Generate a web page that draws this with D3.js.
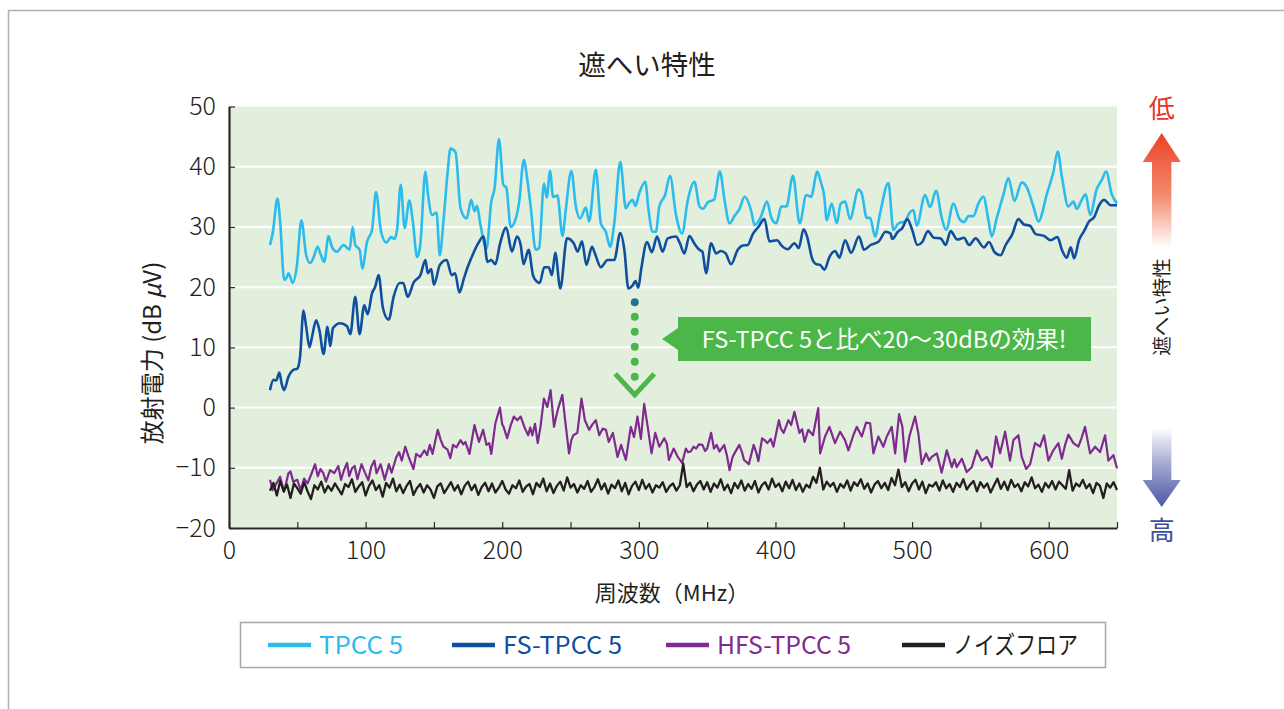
<!DOCTYPE html>
<html><head><meta charset="utf-8">
<script src="https://cdn.jsdelivr.net/npm/d3@7"></script>
<style>
html,body{margin:0;padding:0;background:#fff;}
svg{display:block;font-family:"Noto Sans CJK JP","Noto Sans",sans-serif;}
</style></head>
<body>
<svg id="chart" width="1284" height="709"></svg>
<script>
// ---- data ----
const yTicks = [-20,-10,0,10,20,30,40,50];
const xTicks = [0,50,100,150,200,250,300,350,400,450,500,550,600,650];
const seriesNames = ["TPCC 5","FS-TPCC 5","HFS-TPCC 5","ノイズフロア"];
const seriesColors = ["#2bbbec","#0f4f9f","#7e2a8f","#231f20"];

// TPCC 5 [MHz, dBuV]
const tpcc5 = [[30,27],[32,29],[35.5,34.7],[37.4,31],[40.4,21.2],[42,21.5],[43.5,22.3],[46.7,20.7],[49.6,23.4],[53,31.1],[56.5,25.3],[59.4,24],[62,25],[64.8,26.7],[67,25.5],[69.7,24.2],[72.9,28.5],[75.3,26.7],[79,25.9],[83.9,27],[88.3,26.2],[90.5,30],[92.4,27],[95.6,26.2],[97.6,23.1],[101,27.5],[104.7,29.5],[107.6,35.8],[111.3,29.2],[115.2,27.4],[118.6,28.3],[121,28],[123,29.5],[125.7,37],[128.6,29.8],[132,34.4],[134.5,31],[137.7,25],[140,27],[143.8,39.2],[145.5,35.7],[148.7,32],[151.9,32.4],[154.3,25.3],[157,31],[160,39],[162.1,43],[165.8,42.4],[169.5,33.1],[173.9,31.4],[177.3,34.5],[179.7,32.6],[181.5,33.5],[184.1,30.3],[188.5,26.4],[192,34.2],[194.4,36.4],[197.6,44.6],[200.8,37],[203,36.5],[206.2,30],[209.8,31.3],[212.3,34],[215.8,41.1],[218.4,37.8],[220.8,33.4],[224.5,26.2],[227,26.5],[230.6,37.2],[232.6,34.9],[235,39.3],[237.2,35],[240.4,35.2],[244.1,28.5],[246.5,32.8],[250.6,39.3],[253.9,33.4],[257,31.4],[261.2,33.2],[263.6,30.9],[268.5,39.5],[272.2,30.6],[275.8,29.2],[279,26.7],[282,30.6],[286.4,40.8],[290.5,33.1],[293,34],[295.4,34.5],[297.5,33.5],[300.3,35.6],[304.7,37.5],[307,33],[310.1,29.2],[312.5,29.2],[315,33.4],[319.2,35.3],[322.8,38.5],[327.2,32],[331.6,28.9],[335.8,34.4],[340.7,37.5],[344.4,33.4],[347,33],[350.5,34.1],[355,34.5],[359.3,39.2],[362.7,34.5],[366.4,30.6],[370,31.8],[373.7,33],[377.4,35],[382.3,32.6],[384.7,30.3],[389,31.5],[393.8,34.2],[397,31.5],[400.6,30.6],[404.3,33.4],[408,33.4],[412.8,38.5],[417.7,30.6],[422.6,35.3],[426,35],[430.7,39.2],[432.7,37.8],[435.8,34.9],[437.5,31.1],[441.2,33.9],[444.9,30.6],[447.8,33.9],[451,34.2],[454.6,31.3],[460.7,36.2],[463.2,35.5],[466.8,31.5],[469.3,31.5],[472.9,28.4],[476.6,32.3],[482.7,37.3],[486.3,29.5],[490,30.6],[494.9,30.9],[498,32.3],[501,32.8],[503.4,30.2],[509.5,35.3],[513.2,33.3],[517.6,36],[521.7,31.5],[524.9,29.5],[530.3,33.9],[534.7,31.3],[538,30.8],[541.3,31.8],[544.9,31.8],[548.6,33.9],[552.2,35],[555.9,31.1],[558.3,28.4],[562,31.5],[566.9,35.4],[570.5,38.1],[574.9,34.3],[580.3,37.4],[583.9,36.6],[588.8,33.4],[592.5,30.9],[598.6,35.4],[603.5,39.2],[606.6,42.5],[609.6,38.4],[614.4,33.4],[618.1,34.2],[620.6,33],[624.2,34.5],[627.1,35.4],[630.3,32],[635.2,36.3],[638.9,37.8],[642,39.2],[646.2,35.4],[650,33.9]];

// FS-TPCC 5 [MHz, dBuV]
const fsTpcc5 = [[30,2.9],[32.5,4.6],[34.5,4.5],[36.9,5.8],[38.5,4],[40.3,2.9],[43.5,5.1],[46.7,6.2],[50.1,6.5],[52,8.4],[54.5,16.1],[56.5,13.4],[58.9,10],[61,12],[63.8,14.5],[66.3,12.7],[69.2,8.9],[72.1,13.4],[74.1,10.2],[76.1,13.2],[81.5,14],[86.4,13.5],[88.8,12.2],[92.4,18.4],[95.6,12.2],[99,17],[101.5,15.5],[104.7,19],[107.1,20.1],[109.5,22],[112.7,16.5],[116.9,14.6],[120.5,18.4],[124.9,20.7],[127.5,20.7],[130.8,18.4],[135.2,20.8],[140.1,22],[143.8,24.5],[145.5,22.3],[148,23],[150,20.4],[154.4,23.7],[159.3,24.5],[163,22],[165.5,22.3],[168.6,19.1],[172,21.5],[175,23.5],[178.8,25.6],[182.5,27.3],[186.2,28.4],[189.2,24.2],[192,24.5],[194.9,23.8],[198.5,27.3],[202.9,29.9],[207.1,25.9],[210.8,28.4],[213.5,27],[215.6,23.8],[219.3,26.2],[222.5,22],[225,21],[227.4,20.7],[230.8,23.3],[234,23.3],[236.4,22],[238.8,25.7],[242.5,19.8],[247.4,28.1],[252.3,27.3],[255.2,25.9],[258.4,27.6],[261.6,23.7],[265.7,26.7],[268,25.5],[272.2,23.3],[277.1,24.5],[282,24.5],[286.4,29],[289.4,26.2],[292.3,19.8],[295.5,20.3],[297.5,21],[299.6,19.9],[301.6,22.8],[306,27.5],[309.5,25.8],[313.3,28.4],[317.4,25.9],[321.1,28.1],[327.2,28.4],[330,27.3],[333.3,25.6],[337,28.5],[340.5,27.3],[344.3,26.2],[346.5,25.9],[349.2,22.3],[352.9,27.3],[356.6,25.6],[360,26],[363.5,25.6],[367.5,23.8],[372.4,26.2],[376,26.9],[379.7,27],[383.4,28.8],[387.5,30],[391.9,31.3],[395.6,27.6],[401.2,27.8],[404.5,26.9],[409,26.3],[413.9,27.3],[417,26.5],[420.6,29.6],[423,28.5],[427.2,24.5],[430,23.8],[432.7,23.7],[435.8,22.9],[439.5,25],[443.6,26],[446.8,24.9],[451,27.8],[455.4,25.7],[461.1,28.4],[464.8,26.2],[469.6,27],[475.7,27.6],[480.6,29.2],[484.2,28.9],[485.5,28],[489.6,29.2],[492.8,29.8],[496.5,31.3],[500.1,29.5],[503.8,27],[507.5,27.5],[511.6,29.3],[516,28.2],[520.9,28.1],[524.6,27],[528.2,29.3],[533.1,27.9],[538,28.2],[541.7,27],[546.5,28.1],[552.6,26.6],[556.3,27.5],[560.4,25.8],[564.8,25.3],[568.5,27],[573.4,28.8],[577.8,31.3],[581.9,30.4],[586.3,30.2],[590.5,28.8],[596.6,28.5],[601.5,27.8],[606.3,28.3],[610,26],[613.2,24.9],[616.1,26.6],[618.6,24.8],[622.2,27.8],[625.9,29.3],[629.5,30.9],[633.2,31.6],[636.9,33.6],[640.5,34.5],[645.4,33.6],[650,33.6]];

// HFS-TPCC 5 [MHz, dBuV]
const hfsTpcc5 = [[30,-12],[32,-13.7],[35,-12.5],[37.4,-11.5],[40.3,-14],[43.5,-10.9],[45,-10.6],[47,-12.3],[50,-12],[52.5,-13.7],[55,-11.8],[57.5,-12.6],[60,-11.2],[63,-9.4],[65,-11.4],[67,-10.2],[69,-10.9],[71,-12.3],[74,-10.4],[77,-10.9],[80,-9.7],[82,-12],[84,-10.5],[86.4,-9.2],[88,-11.4],[90,-10.1],[92,-9.7],[94,-11.9],[97,-9.4],[99.5,-10.8],[102,-12.1],[104,-9.9],[106.4,-8.8],[108,-10.9],[111,-9.4],[114,-12],[117,-9.4],[119,-10.8],[122.5,-8.2],[124.5,-7.4],[126.5,-8.8],[129,-6.5],[131.5,-8.2],[135,-10.2],[137,-7.7],[140,-8.2],[143,-7.1],[145,-7.9],[147,-6.2],[149,-7.7],[151,-5.5],[152.8,-3.7],[155,-5.4],[157,-6.5],[160,-7],[162,-8.4],[164,-6.2],[166.5,-6.6],[169.5,-5.4],[171.5,-6.1],[173,-5.7],[176,-7.7],[179.7,-2.9],[181.5,-4.5],[183,-5.7],[186,-3.7],[188.5,-6.2],[190.5,-5.9],[192,-7.7],[195,-2.6],[198.3,0],[200,-2.8],[201,-3.2],[203.6,-5.1],[206,-3.1],[208.5,-1.5],[211,-2.1],[213.5,-1.5],[216.7,-3.5],[219,-4.6],[220.5,-3.3],[222,-4.6],[224,-2.7],[226,-5.9],[228,-3.2],[230.5,1.5],[233,0.1],[235.4,2.9],[237.9,-3.2],[239.5,-1.5],[241,-0.1],[244,2.1],[246,-2],[248.9,-7.6],[250.5,-5.5],[252,-4.6],[255,-4.2],[258,1.5],[260.5,-2.1],[263.6,-3.7],[266,-2.8],[268.5,-2.1],[271,-4.6],[273.5,-3.5],[275.9,-3.7],[278,-5.7],[281,-4.2],[284.4,-8.2],[287,-6.2],[290.5,-8.7],[292.5,-5.6],[294.1,-3.2],[296.5,-4.9],[299,-1.5],[301.5,-5.2],[303.9,0.6],[306.5,-3.2],[309.3,-7.6],[312,-4.2],[315,-6.5],[318.6,-5.1],[320.5,-6],[322,-8.7],[325.5,-6.8],[328.5,-8.2],[331.7,-9.2],[334.4,-6.8],[336,-7.4],[338,-7.3],[340,-6.5],[342,-6.8],[344,-6.1],[346.5,-6.2],[348.5,-7.2],[350,-6.8],[352.9,-4.2],[355,-6.8],[357,-6.2],[359,-7.3],[362.5,-6.2],[364.5,-8],[366.4,-10.4],[368.5,-8.3],[370,-7.6],[373.5,-6.2],[375.5,-7.4],[377,-8.7],[380.5,-9.4],[384,-6.2],[386,-7.5],[387.5,-8.9],[390.2,-5.1],[392,-5.4],[394,-5.9],[396.5,-5.2],[398.5,-6.5],[402.5,-2.1],[404,-3.5],[406,-4.2],[409.5,-2.1],[411.5,-2.9],[413.9,-0.7],[417.5,-4.2],[419.5,-3.6],[421.3,-5.7],[424,-3.7],[427.5,-4.6],[431.3,-0.1],[432.7,-7.6],[436.3,-4.8],[439.5,-3.2],[443.6,-5.9],[447.3,-4],[450.9,-5.4],[453.4,-7.1],[457,-4.6],[459.5,-3.2],[463.2,-4.8],[466.3,-2.5],[469.3,-2.6],[471.7,-7.6],[475.3,-4.8],[479,-6.5],[481.5,-4.8],[485.1,-3.2],[487.6,-7.6],[490.5,-1.1],[492.9,-3.2],[494.9,-9],[498,-4.8],[502.2,-1.5],[504.6,-4.3],[507.1,-9.4],[510.2,-7.6],[512.5,-8.8],[514.4,-8.2],[518.1,-7.6],[521.7,-10.8],[525.4,-7.1],[529.1,-9.9],[531,-8.6],[532.7,-9.9],[536.4,-8.5],[540,-10.7],[543.7,-9.9],[547.4,-7.1],[551,-8.8],[554.7,-8.2],[558.3,-9.9],[561.5,-4.8],[564.4,-7.6],[568.1,-4],[571.7,-8.8],[574.2,-5.4],[577.8,-4.6],[580.3,-8.2],[583.5,-10.2],[586.4,-9.4],[590,-5.9],[593.7,-6.5],[596.6,-4.6],[599.8,-8.8],[603.4,-7.1],[607.1,-5.9],[609.6,-8.5],[612,-6.2],[614.4,-4.5],[618.1,-5.9],[621.7,-6.5],[624,-5.1],[626.6,-3.2],[630.3,-7.6],[634,-6.5],[637.6,-7.4],[641.3,-4.6],[643.7,-8.8],[647.4,-7.9],[650,-10.1]];

// Noise floor, 30–650 MHz every 2.5 MHz [dBuV]
const noiseStart = 30, noiseStep = 2.5;
const noiseFloor = [
-13.8,-12.5,-14.6,-12.2,-13.9,-12.8,-15.0,-12.6,-13.4,-14.3,
-12.4,-13.9,-15.2,-12.9,-13.6,-12.3,-14.1,-13.0,-13.8,-12.6,
-13.5,-14.4,-12.7,-13.2,-11.9,-14.0,-13.1,-12.4,-14.6,-13.0,
-12.1,-13.7,-12.9,-14.8,-12.5,-13.3,-11.8,-13.9,-12.8,-14.2,
-13.0,-12.2,-14.5,-13.4,-12.7,-14.1,-12.9,-13.6,-15.0,-13.1,
-12.6,-14.2,-13.3,-12.4,-13.8,-12.9,-14.4,-13.0,-12.3,-13.7,
-12.8,-14.5,-13.2,-12.5,-13.9,-12.6,-14.1,-13.3,-12.2,-13.6,
-14.3,-12.9,-13.4,-12.1,-14.0,-13.1,-12.7,-14.4,-12.5,-13.2,
-11.8,-13.9,-12.6,-14.2,-13.0,-12.3,-13.8,-11.6,-13.3,-12.7,
-14.1,-12.9,-13.5,-12.2,-14.0,-13.2,-11.9,-13.6,-12.6,-14.3,
-12.8,-13.4,-12.1,-13.9,-12.5,-14.4,-13.0,-12.3,-13.7,-12.0,
-13.5,-12.7,-14.1,-12.9,-13.3,-12.4,-14.0,-13.1,-12.6,-13.8,
-12.9,-9.3,-13.2,-12.5,-13.9,-12.8,-12.2,-13.6,-12.4,-14.0,
-12.6,-13.3,-11.9,-13.7,-12.8,-14.2,-12.5,-13.4,-12.1,-13.8,
-12.7,-13.5,-12.2,-14.1,-12.9,-12.4,-13.6,-11.8,-13.2,-12.6,
-13.9,-12.3,-13.4,-12.0,-13.7,-12.6,-14.0,-12.8,-13.3,-11.5,
-12.5,-10.0,-13.6,-12.3,-13.1,-12.5,-14.0,-12.7,-13.3,-12.1,
-13.8,-12.4,-13.0,-11.9,-13.5,-12.6,-14.1,-12.8,-12.2,-13.4,
-12.5,-13.7,-11.7,-12.9,-10.3,-13.2,-12.4,-13.9,-12.6,-12.0,
-13.6,-12.3,-14.2,-12.8,-13.1,-12.4,-13.8,-12.1,-13.4,-12.7,
-14.0,-12.5,-13.2,-11.9,-13.6,-12.8,-12.2,-13.9,-12.4,-13.3,
-12.6,-14.1,-12.9,-11.8,-13.5,-12.3,-13.7,-12.0,-13.2,-12.7,
-13.9,-12.4,-13.1,-11.6,-13.4,-12.8,-14.0,-12.5,-13.3,-12.2,
-13.6,-12.3,-12.9,-13.5,-10.4,-13.8,-12.6,-13.1,-12.0,-13.4,
-12.7,-14.2,-12.5,-13.0,-15.0,-12.6,-13.3,-12.4,-13.7];

// ---- chart ----
const svg = d3.select("#chart");
const x = d3.scaleLinear().domain([0,650]).range([229,1117]);
const y = d3.scaleLinear().domain([-20,50]).range([528,106.5]);

// outer frame
svg.append("path").attr("d","M8.5,709 V10.5 H1284").attr("fill","none").attr("stroke","#b0b0b0").attr("stroke-width",1.5);

// title
svg.append("text").attr("x",647).attr("y",75).attr("text-anchor","middle")
  .attr("font-size",27.5).attr("fill","#231f20").text("遮へい特性");

// plot background
svg.append("rect").attr("x",x(0)).attr("y",y(50)).attr("width",x(650)-x(0)).attr("height",y(-20)-y(50)).attr("fill","#e3efdd");

// gridlines
svg.append("g").selectAll("line").data(yTicks.filter(d=>d>-20 && d<50)).join("line")
  .attr("x1",x(0)).attr("x2",x(650)).attr("y1",d=>y(d)).attr("y2",d=>y(d))
  .attr("stroke","#fff").attr("stroke-width",2);

// series
const lineSmooth = d3.line().x(d=>x(d[0])).y(d=>y(d[1])).curve(d3.curveMonotoneX);
const lineSharp = d3.line().x(d=>x(d[0])).y(d=>y(d[1]));
const noisePts = noiseFloor.map((v,i)=>[noiseStart+i*noiseStep, v]);

const gL = svg.append("g").attr("fill","none").attr("stroke-linejoin","round");
gL.append("path").attr("d",lineSmooth(tpcc5)).attr("stroke",seriesColors[0]).attr("stroke-width",2.6);
gL.append("path").attr("d",lineSmooth(fsTpcc5)).attr("stroke",seriesColors[1]).attr("stroke-width",2.6);
gL.append("path").attr("d",lineSharp(hfsTpcc5)).attr("stroke",seriesColors[2]).attr("stroke-width",2.2);
gL.append("path").attr("d",lineSharp(noisePts)).attr("stroke",seriesColors[3]).attr("stroke-width",2.3);

// axes
const yAxis = d3.axisLeft(y).tickValues(yTicks).tickSize(-6).tickSizeOuter(0).tickPadding(13);
const gy = svg.append("g").attr("transform",`translate(${x(0)},0)`).call(yAxis);
const xAxis = d3.axisBottom(x).tickValues(xTicks).tickSize(-6).tickSizeOuter(0).tickPadding(13)
  .tickFormat(d => d % 100 === 0 ? d : "");
const gx = svg.append("g").attr("transform",`translate(0,${y(-20)})`).call(xAxis);
[gx,gy].forEach(g=>{
  g.select(".domain").attr("stroke","#2a2a2a").attr("stroke-width",2.2);
  g.selectAll(".tick line").attr("stroke","#2a2a2a").attr("stroke-width",1.2);
  g.selectAll(".tick text").attr("font-family",'"Noto Sans CJK JP","Noto Sans",sans-serif')
    .attr("font-size",25).attr("font-weight",300).attr("fill","#231f20");
});

// axis titles
svg.append("text").attr("transform","translate(161,353) rotate(-90)").attr("text-anchor","middle")
  .attr("font-size",24).attr("fill","#231f20")
  .html('放射電力 (dB <tspan font-style="italic">μ</tspan>V)');
svg.append("text").attr("x",672).attr("y",601).attr("text-anchor","middle")
  .attr("font-size",22).attr("fill","#231f20").text("周波数（MHz）");

// annotation: dotted arrow
const annF = 297;
const dotVals = [17.5,15.1,12.6,10.1,7.6,5.1];
svg.append("g").selectAll("circle").data(dotVals).join("circle")
  .attr("cx",x(annF)).attr("cy",d=>y(d)).attr("r",4)
  .attr("fill",(d,i)=> i===0 ? "#2a6f8b" : "#4bb748");
svg.append("path")
  .attr("d",`M${x(annF)-19.5},${y(5.6)} L${x(annF)},${y(2.1)} L${x(annF)+19.5},${y(5.6)}`)
  .attr("fill","none").attr("stroke","#4bb748").attr("stroke-width",5);

// callout
svg.append("path").attr("d","M662,339 L678,328 L678,317 L1091,317 L1091,361 L678,361 L678,350 Z").attr("fill","#4bb748");
svg.append("text").attr("x",884).attr("y",348).attr("text-anchor","middle")
  .attr("font-size",23.5).attr("fill","#fff").text("FS-TPCC 5と比べ20〜30dBの効果!");

// right indicator
const defs = svg.append("defs");
const gUp = defs.append("linearGradient").attr("id","gUp").attr("x1",0).attr("y1",0).attr("x2",0).attr("y2",1);
gUp.append("stop").attr("offset","0%").attr("stop-color","#ec4124");
gUp.append("stop").attr("offset","55%").attr("stop-color","#f28d70");
gUp.append("stop").attr("offset","100%").attr("stop-color","#ffffff");
const gDn = defs.append("linearGradient").attr("id","gDn").attr("x1",0).attr("y1",0).attr("x2",0).attr("y2",1);
gDn.append("stop").attr("offset","0%").attr("stop-color","#ffffff");
gDn.append("stop").attr("offset","45%").attr("stop-color","#a6a9d3");
gDn.append("stop").attr("offset","100%").attr("stop-color","#4a58a6");
const cx = 1161.7;
svg.append("path").attr("d",`M${cx},133 L${cx+19},162 L${cx+9.7},162 L${cx+9.7},248 L${cx-9.7},248 L${cx-9.7},162 L${cx-19},162 Z`).attr("fill","url(#gUp)");
svg.append("path").attr("d",`M${cx},507 L${cx+19},480 L${cx+9.7},480 L${cx+9.7},428 L${cx-9.7},428 L${cx-9.7},480 L${cx-19},480 Z`).attr("fill","url(#gDn)");
svg.append("text").attr("x",cx).attr("y",118).attr("text-anchor","middle").attr("font-size",26).attr("fill","#e8342a").text("低");
svg.append("text").attr("x",cx).attr("y",540).attr("text-anchor","middle").attr("font-size",26).attr("fill","#3e4e9e").text("高");
svg.append("text").attr("transform",`translate(${cx+7},307) rotate(-90)`).attr("text-anchor","middle")
  .attr("font-size",19.5).attr("fill","#231f20").text("遮へい特性");

// legend
svg.append("rect").attr("x",240.5).attr("y",622.5).attr("width",865).attr("height",45)
  .attr("fill","#fff").attr("stroke","#a8a8a8").attr("stroke-width",1.5);
const legX = [268,452,666,902];
const legW = [84,119,134,125];
const leg = svg.append("g").selectAll("g").data(seriesNames).join("g")
  .attr("transform",(d,i)=>`translate(${legX[i]},645)`);
leg.append("line").attr("x1",0).attr("x2",43).attr("y1",0).attr("y2",0)
  .attr("stroke",(d,i)=>seriesColors[i]).attr("stroke-width",4.5);
leg.append("text").attr("x",51).attr("y",9).attr("font-size",24.5)
  .attr("textLength",(d,i)=>legW[i]).attr("lengthAdjust","spacingAndGlyphs")
  .attr("fill",(d,i)=> i===3 ? "#231f20" : seriesColors[i]).text(d=>d);
</script>
</body></html>
